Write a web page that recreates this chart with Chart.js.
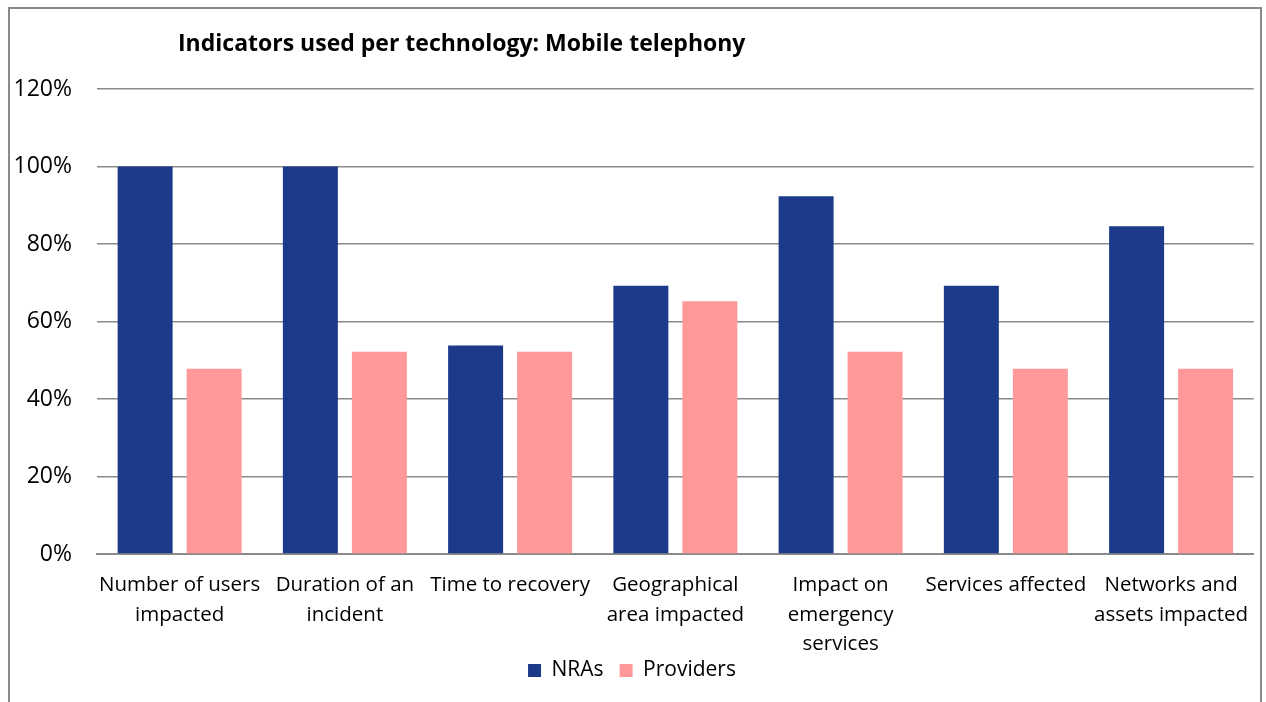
<!DOCTYPE html>
<html>
<head>
<meta charset="utf-8">
<script src="https://cdn.jsdelivr.net/npm/chart.js@4.4.1/dist/chart.umd.min.js"></script>
<style>
  html, body { margin: 0; padding: 0; background: #fff; }
  body { width: 1266px; height: 702px; position: relative; overflow: hidden; }
  #frame {
    position: absolute; left: 8px; top: 7px; width: 1254px; height: 720px;
    border: 2px solid #8a8a8a; border-bottom: none; box-sizing: border-box;
  }
  #title {
    position: absolute; left: 178px; top: 27px; line-height: 31px;
    font-family: "Open Sans", sans-serif; font-weight: bold; font-size: 23px; color: #000;
  }
  #wrap { position: absolute; left: 0; top: 0; width: 1266px; height: 702px; }
</style>
</head>
<body>
<div id="frame"></div>
<div id="wrap"><canvas id="chart" width="1266" height="702"></canvas></div>
<div id="title">Indicators used per technology: Mobile telephony</div>
<script>
// Share of respondents using each incident indicator (%)
const categories = [
  ["Number of users", "impacted"],
  ["Duration of an", "incident"],
  "Time to recovery",
  ["Geographical", "area impacted"],
  ["Impact on", "emergency", "services"],
  "Services affected",
  ["Networks and", "assets impacted"]
];
const nraValues      = [100, 100, 53.8, 69.2, 92.3, 69.2, 84.6];
const providerValues = [47.8, 52.2, 52.2, 65.2, 52.2, 47.8, 47.8];
const yTicks = [0, 20, 40, 60, 80, 100, 120];

const FONT = '"Open Sans", sans-serif';

// Pull the legend up closer to the category labels (its padding also sets the item gap)
const legendLift = {
  id: 'legendLift',
  afterLayout(chart) {
    const lg = chart.legend;
    if (lg) { lg.top -= 6; lg.bottom -= 6; }
  }
};

new Chart(document.getElementById('chart'), {
  type: 'bar',
  data: {
    labels: categories,
    datasets: [
      { label: 'NRAs', data: nraValues, backgroundColor: '#1c3a8a',
        categoryPercentage: 0.835, barPercentage: 0.797 },
      { label: 'Providers', data: providerValues, backgroundColor: '#ff9999',
        categoryPercentage: 0.835, barPercentage: 0.797 }
    ]
  },
  plugins: [legendLift],
  options: {
    responsive: false,
    animation: false,
    layout: { padding: { left: 10, right: 12, top: 89, bottom: 5 } },
    plugins: {
      title: { display: false },
      tooltip: { enabled: false },
      legend: {
        position: 'bottom',
        labels: {
          font: { family: FONT, size: 21 }, color: '#000',
          boxWidth: 13, boxHeight: 13, padding: 16
        }
      }
    },
    scales: {
      x: {
        afterFit: axis => { axis.height = 96; },
        grid: { display: false, drawTicks: false },
        border: { display: true, color: '#8a8a8a', width: 2 },
        ticks: {
          font: { family: FONT, size: 20.5, lineHeight: 1.42 }, color: '#000',
          maxRotation: 0, autoSkip: false, padding: 17
        }
      },
      y: {
        min: 0, max: 120,
        afterBuildTicks: axis => { axis.ticks = yTicks.map(v => ({ value: v })); },
        afterFit: axis => { axis.width = 87; },
        grid: { color: '#8a8a8a', lineWidth: 1.5, drawTicks: false },
        border: { display: false },
        ticks: {
          font: { family: FONT, size: 23 }, color: '#000', padding: 25,
          callback: v => v + '%'
        }
      }
    }
  }
});
</script>
</body>
</html>
